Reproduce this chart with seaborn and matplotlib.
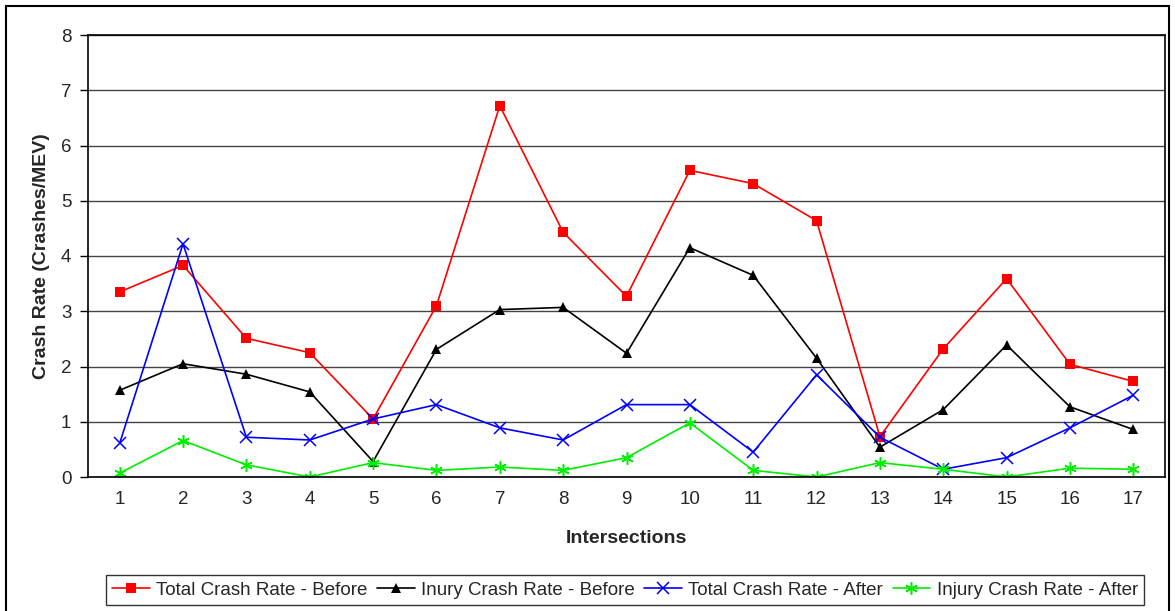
import numpy as np
import pandas as pd
import matplotlib
matplotlib.use("Agg")
import matplotlib.pyplot as plt
import seaborn as sns
from matplotlib.patches import Rectangle
from matplotlib.ticker import FixedLocator

# data
intersections = list(range(1, 18))
total_before = [3.35, 3.83, 2.51, 2.25, 1.05, 3.10, 6.72, 4.43, 3.27, 5.55, 5.31, 4.64, 0.73, 2.32, 3.59, 2.04, 1.73]
injury_before = [1.57, 2.05, 1.86, 1.54, 0.28, 2.31, 3.03, 3.07, 2.24, 4.15, 3.65, 2.15, 0.54, 1.22, 2.39, 1.27, 0.86]
total_after = [0.61, 4.22, 0.72, 0.67, 1.05, 1.31, 0.89, 0.67, 1.31, 1.31, 0.45, 1.85, 0.72, 0.14, 0.35, 0.89, 1.48]
injury_after = [0.07, 0.66, 0.22, 0.00, 0.26, 0.12, 0.18, 0.12, 0.35, 0.98, 0.12, 0.00, 0.26, 0.14, 0.00, 0.16, 0.14]

series_names = ["Total Crash Rate - Before", "Inury Crash Rate - Before",
                "Total Crash Rate - After", "Injury Crash Rate - After"]
series_values = [total_before, injury_before, total_after, injury_after]

sns.set_style("white")
plt.rcParams['font.family'] = ['Liberation Sans', 'DejaVu Sans']

fig = plt.figure(figsize=(11.75, 6.11), dpi=100)
ax = fig.add_axes([88/1175, 1-477/611, (1165-88)/1175, (477-35)/611])

styles = [
    dict(color="#ff0000", marker="s", markersize=6.5, markeredgewidth=0),
    dict(color="#000000", marker="^", markersize=7, markeredgewidth=0),
    dict(color="#0000ff", marker="x", markersize=8, markeredgewidth=1.1),
    dict(color="#00ee00", marker=(6, 2, 0), markersize=9, markeredgewidth=1.1),
]

for name, vals, st in zip(series_names, series_values, styles):
    sns.lineplot(x=intersections, y=vals, ax=ax, label=name, linewidth=1.2,
                 color=st["color"], marker=st["marker"], markersize=st["markersize"],
                 markeredgewidth=st["markeredgewidth"], markeredgecolor=st["color"],
                 markerfacecolor=st["color"])

ax.set_xlim(0.5, 17.5)
ax.set_ylim(0, 8)
ax.set_yticks(range(0, 9))
ax.set_xticks(intersections)
ax.set_xticklabels([str(i) for i in intersections])
ax.xaxis.set_minor_locator(FixedLocator(np.arange(0.5, 18, 1)))
ax.tick_params(axis="x", which="major", length=0, labelsize=13.5, pad=10)
ax.tick_params(axis="x", which="minor", length=6, width=1, color="black", direction="out")
ax.tick_params(axis="y", length=6, width=1, color="black", direction="out", labelsize=13.5, left=True, pad=6)
ax.yaxis.grid(True, color="#444444", linewidth=1)
ax.set_axisbelow(True)
for sp in ax.spines.values():
    sp.set_color("black")
    sp.set_linewidth(1.2)

ax.set_xlabel("Intersections", fontsize=14, fontweight="bold", labelpad=16)
ax.set_ylabel("Crash Rate (Crashes/MEV)", fontsize=14, fontweight="bold", labelpad=8)

ax.get_legend().remove()
handles, labels = ax.get_legend_handles_labels()
leg = fig.legend(handles, labels, loc="lower center", bbox_to_anchor=(0.532, -0.006), ncol=4,
                 fontsize=13.5, frameon=True, fancybox=False, edgecolor="black",
                 handlelength=2.0, handletextpad=0.35, columnspacing=0.5, borderpad=0.35)
leg.get_frame().set_linewidth(1.0)

# outer chart border
fig.patches.append(Rectangle((6/1175, -0.01), 1163/1175, 1 - 6/611 + 0.01, transform=fig.transFigure,
                             fill=False, edgecolor="black", linewidth=1.5))

fig.savefig("out.png", dpi=100)
